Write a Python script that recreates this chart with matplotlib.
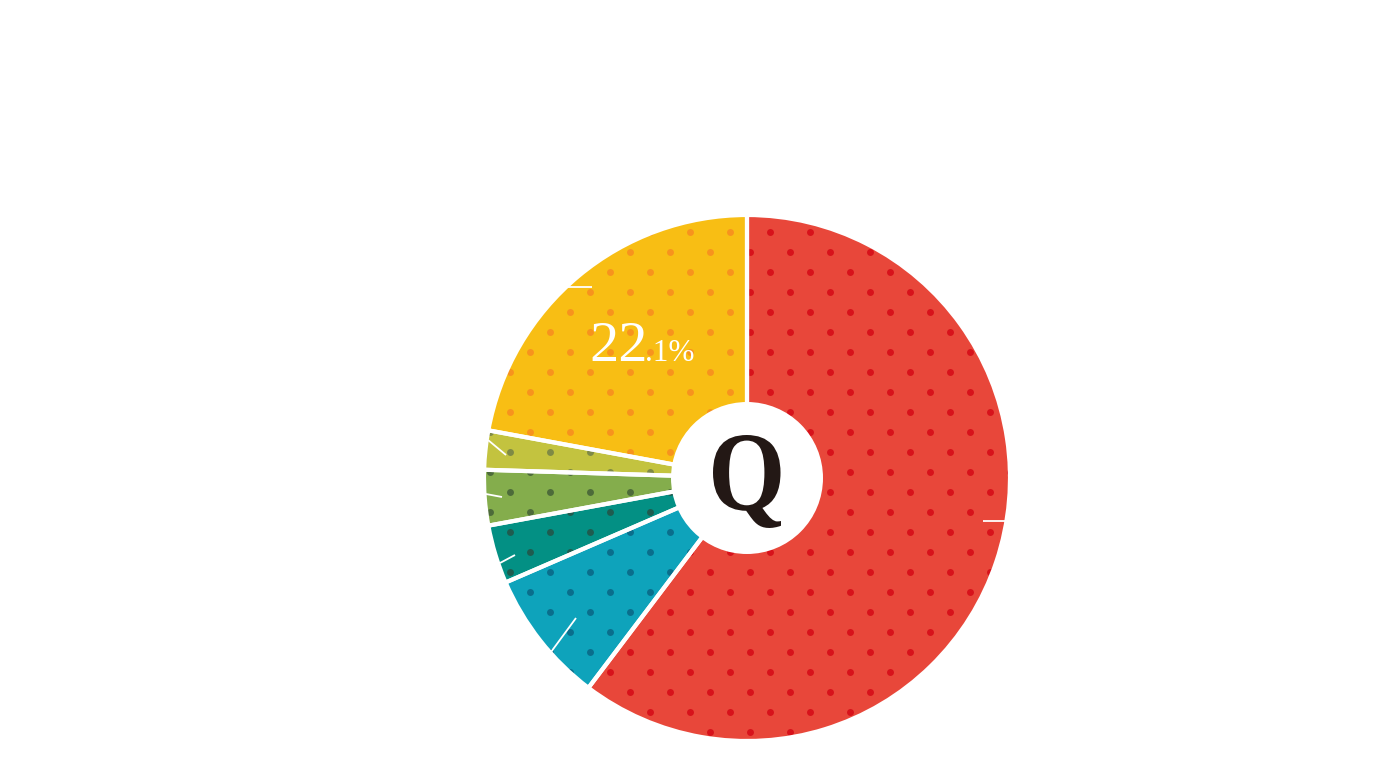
import numpy as np
import matplotlib
matplotlib.use('Agg')
import matplotlib.pyplot as plt
from matplotlib.patches import Circle, Wedge, PathPatch
from matplotlib.textpath import TextPath
from matplotlib.font_manager import FontProperties
from matplotlib.transforms import Affine2D

# slices clockwise from 12 o'clock
shares = [60.3, 8.2, 3.6, 3.4, 2.4, 22.1]
colors = ['#E8473A', '#0EA3BB', '#039084', '#84AD4C', '#C3C33F', '#F8BE14']
dot_colors = ['#D7121B', '#0A6E8C', '#1F5C4F', '#4D6B3A', '#7F8A45', '#F7931E']
label_big = '22'
label_small = '.1%'
center_letter = 'Q'

W, H = 1377, 780
cx, cy = 747, H - 478
R, r_in = 263, 76

fig = plt.figure(figsize=(W / 100, H / 100), dpi=100)
ax = fig.add_axes([0, 0, 1, 1])

wedges, _ = ax.pie(shares, colors=colors, startangle=90, counterclock=False,
                   radius=R, center=(cx, cy), wedgeprops=dict(linewidth=0))

# staggered dot grid (pixel coords, measured top-down)
gx, gy = [], []
for k in range(-12, 30):
    yy = 232 + 20 * k
    for j in range(-5, 20):
        xx = 570 + 40 * j + 20 * (k % 2)
        gx.append(xx)
        gy.append(H - yy)
gx = np.array(gx)
gy = np.array(gy)

for w, dc in zip(wedges, dot_colors):
    sc = ax.scatter(gx, gy, s=25, color=dc, linewidths=0, zorder=2)
    sc.set_clip_path(w)
    ax.add_patch(Wedge(w.center, w.r, w.theta1, w.theta2, facecolor='none',
                       edgecolor='white', linewidth=3, zorder=3))

# short white leader ticks
leaders = [((983, 521), (1005, 521)), ((568, 287), (592, 287)),
           ((551, 652), (576, 618)), ((500, 563), (515, 555)),
           ((486, 494), (502, 497)), ((488, 440), (506, 455))]
for (x0, y0), (x1, y1) in leaders:
    ax.plot([x0, x1], [H - y0, H - y1], color='white', lw=1.3, zorder=3,
            solid_capstyle='butt')

ax.add_patch(Circle((cx, cy), r_in, facecolor='white', edgecolor='none', zorder=4))

# narrow bold serif Q, fitted into its box
tp = TextPath((0, 0), center_letter, size=100,
              prop=FontProperties(family='Liberation Serif', weight='bold'))
ext = tp.get_extents()
qx0, qx1, qtop, qbot = 713, 781, 435, 528
tr = (Affine2D().translate(-ext.x0, -ext.y0)
      .scale((qx1 - qx0) / ext.width, (qbot - qtop) / ext.height)
      .translate(qx0, H - qbot))
ax.add_patch(PathPatch(tr.transform_path(tp), facecolor='#231815',
                       edgecolor='none', zorder=5))

ax.text(589, H - 361, label_big, ha='left', va='baseline', fontsize=42,
        family='Liberation Serif', color='white', zorder=5)
ax.text(645, H - 361, label_small, ha='left', va='baseline', fontsize=22.5,
        family='Liberation Serif', color='white', zorder=5)

ax.set_xlim(0, W)
ax.set_ylim(0, H)
ax.set_aspect('equal')
ax.axis('off')

plt.savefig('out.png', dpi=100)
